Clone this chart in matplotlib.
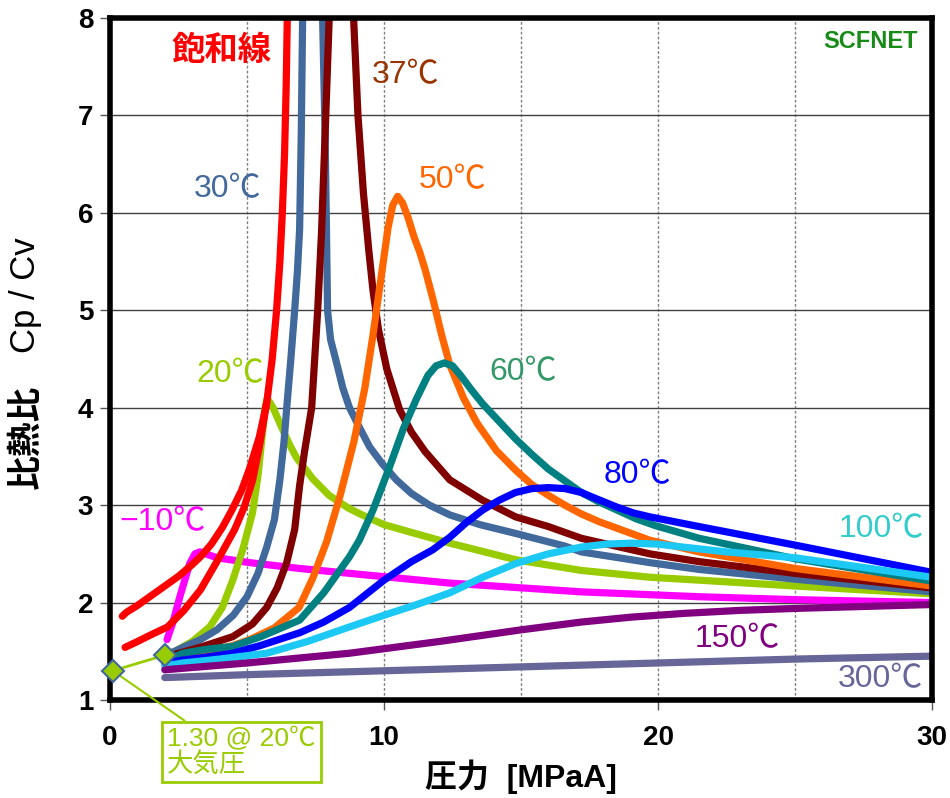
"""
Cp/Cv of CO2 vs pressure, one curve per temperature + saturation line.
Values read off the SCFNET chart by eye.
"""
import matplotlib
matplotlib.use('Agg')
import matplotlib.pyplot as plt

plt.rcParams['font.family'] = ['Liberation Sans', 'Noto Sans CJK JP', 'DejaVu Sans']

# saturation line (two branches that meet below the critical point)
sat_up_x = [0.45, 0.6, 1.0, 1.5, 2.0, 2.5, 3.0, 3.3, 3.7, 4.1, 4.45, 4.8, 5.1, 5.45, 5.72, 5.92, 6.08, 6.2, 6.29, 6.37, 6.43, 6.47]
sat_up_y = [1.86, 1.9, 1.97, 2.07, 2.17, 2.27, 2.39, 2.47, 2.6, 2.77, 2.95, 3.15, 3.38, 3.7, 4.05, 4.5, 5.0, 5.5, 6.0, 6.6, 7.3, 8.0]
sat_lo_x = [0.55, 1.0, 1.5, 2.1, 2.7, 3.3, 3.9, 4.55, 4.9, 5.2, 5.45, 5.72]
sat_lo_y = [1.54, 1.6, 1.67, 1.75, 1.92, 2.13, 2.42, 2.75, 2.98, 3.25, 3.6, 4.05]

m10_x = [2.08, 2.3, 2.55, 2.75, 2.91, 3.1, 3.28, 3.6, 3.9, 5.1, 6.92, 8.74, 12.4, 17.2, 21.5, 25, 30]
m10_y = [1.62, 1.8, 2.06, 2.25, 2.4, 2.5, 2.52, 2.49, 2.46, 2.41, 2.35, 2.3, 2.2, 2.11, 2.06, 2.03, 2.0]

t20_x = [2.0, 2.44, 3.0, 3.64, 4.1, 4.48, 4.85, 5.2, 5.4, 5.55, 5.65, 5.72, 5.8, 5.95, 6.2, 6.5, 6.8, 7.4, 8.0, 8.7, 9.2, 10.0, 11.0, 12.4, 14.8, 17.2, 19.7, 21.5, 25, 30]
t20_y = [1.46, 1.51, 1.6, 1.75, 1.95, 2.23, 2.55, 2.92, 3.3, 3.7, 3.98, 4.08, 4.07, 4.0, 3.84, 3.65, 3.49, 3.27, 3.1, 2.97, 2.9, 2.8, 2.72, 2.61, 2.44, 2.33, 2.26, 2.23, 2.17, 2.09]

t30_lx = [2.0, 2.66, 3.3, 3.9, 4.5, 5.0, 5.4, 5.72, 6.0, 6.2, 6.35, 6.45, 6.6, 6.74, 6.84, 6.92, 6.98, 7.03]
t30_ly = [1.45, 1.54, 1.62, 1.72, 1.87, 2.06, 2.3, 2.57, 2.85, 3.26, 3.65, 4.0, 4.5, 5.0, 5.4, 5.83, 6.8, 8.0]
t30_rx = [7.76, 7.85, 7.9, 7.94, 8.05, 8.27, 8.5, 8.74, 9.1, 9.47, 9.95, 10.45, 11.0, 11.66, 12.4, 13.5, 14.8, 16.6, 17.2, 19.7, 21.5, 25, 30]
t30_ry = [8.0, 6.8, 5.83, 5.0, 4.7, 4.46, 4.2, 4.0, 3.8, 3.6, 3.42, 3.26, 3.12, 3.0, 2.9, 2.8, 2.71, 2.58, 2.52, 2.41, 2.34, 2.24, 2.11]

t37_lx = [2.0, 3.28, 4.48, 5.2, 5.72, 6.1, 6.45, 6.74, 6.92, 7.1, 7.36, 7.58, 7.72, 7.85, 8.0]
t37_ly = [1.44, 1.54, 1.65, 1.78, 1.95, 2.15, 2.41, 2.75, 3.2, 3.55, 4.0, 5.0, 5.8, 6.8, 8.0]
t37_rx = [8.89, 9.05, 9.25, 9.45, 9.6, 9.8, 10.1, 10.57, 11.0, 11.5, 12.4, 13.6, 14.8, 16.0, 17.2, 19.7, 21.5, 25, 30]
t37_ry = [8.0, 7.0, 6.2, 5.6, 5.2, 4.8, 4.4, 3.98, 3.75, 3.55, 3.26, 3.05, 2.88, 2.78, 2.66, 2.5, 2.42, 2.3, 2.15]

t50_x = [2.0, 3.3, 4.5, 5.1, 6.0, 6.9, 7.4, 7.9, 8.4, 8.9, 9.3, 9.6, 9.95, 10.15, 10.32, 10.5, 10.68, 10.88, 11.1, 11.3, 11.5, 11.8, 12.1, 12.4, 12.9, 13.4, 14.1, 14.8, 15.4, 16.0, 16.6, 17.2, 17.85, 19.7, 21.5, 25, 30]
t50_y = [1.42, 1.48, 1.56, 1.62, 1.74, 1.95, 2.25, 2.62, 3.1, 3.65, 4.2, 4.75, 5.45, 5.85, 6.08, 6.17, 6.1, 5.95, 5.75, 5.6, 5.42, 5.1, 4.75, 4.44, 4.1, 3.84, 3.56, 3.36, 3.21, 3.1, 3.0, 2.91, 2.83, 2.64, 2.52, 2.35, 2.17]

t60_x = [2.0, 2.66, 3.5, 4.48, 5.5, 6.92, 7.8, 8.74, 9.1, 9.6, 10.2, 10.7, 11.2, 11.6, 11.9, 12.2, 12.5, 12.8, 13.2, 13.6, 14.2, 14.8, 15.4, 16.0, 16.6, 17.2, 17.8, 18.5, 19.2, 19.9, 21.5, 25, 30]
t60_y = [1.40, 1.48, 1.52, 1.55, 1.65, 1.82, 2.1, 2.47, 2.64, 2.95, 3.39, 3.78, 4.1, 4.33, 4.43, 4.46, 4.43, 4.33, 4.18, 4.04, 3.86, 3.68, 3.52, 3.37, 3.25, 3.13, 3.04, 2.95, 2.86, 2.79, 2.66, 2.45, 2.22]

t80_x = [2.0, 2.66, 3.5, 4.48, 5.5, 6.92, 7.8, 8.74, 10.0, 11.0, 11.77, 12.4, 13.0, 13.6, 14.2, 14.8, 15.4, 16.0, 16.6, 17.2, 17.8, 18.5, 19.1, 19.7, 21.5, 25, 30]
t80_y = [1.38, 1.41, 1.44, 1.48, 1.56, 1.69, 1.8, 1.95, 2.23, 2.42, 2.54, 2.67, 2.82, 2.95, 3.05, 3.13, 3.17, 3.18, 3.17, 3.13, 3.06, 2.98, 2.92, 2.88, 2.78, 2.59, 2.31]

t100_x = [2.0, 2.66, 4.0, 5.72, 7.2, 8.74, 10.0, 11.2, 12.4, 13.6, 14.8, 16.0, 17.2, 18.1, 19.05, 20.0, 20.9, 22.5, 25, 30]
t100_y = [1.35, 1.38, 1.42, 1.48, 1.6, 1.75, 1.87, 1.98, 2.1, 2.26, 2.4, 2.5, 2.57, 2.6, 2.61, 2.6, 2.57, 2.52, 2.46, 2.26]

t150_x = [2.0, 5.0, 8.74, 12.0, 15.0, 17.2, 19.0, 21.0, 23.0, 25, 30]
t150_y = [1.31, 1.38, 1.48, 1.6, 1.72, 1.8, 1.85, 1.89, 1.92, 1.94, 1.98]

t300_x = [2.0, 5.0, 10.0, 15.0, 20.0, 25.0, 30.0]
t300_y = [1.23, 1.26, 1.3, 1.34, 1.38, 1.42, 1.45]

# atmospheric point -> 2 MPa start point
atm_x = [0.1, 2.0]
atm_y = [1.30, 1.46]

C_SAT = '#FF0000'
C_M10 = '#FF00FF'
C_20 = '#99CC00'
C_30 = '#41699C'
C_37 = '#800000'
C_50 = '#FF6600'
C_60 = '#008080'
C_80 = '#0000FF'
C_100 = '#1CC8F4'
C_150 = '#800080'
C_300 = '#666699'

LW = 5.2

fig = plt.figure(figsize=(9.5, 7.98), dpi=100)
ax = fig.add_axes([110 / 950, 1 - 700 / 798, 822 / 950, 682 / 798])

ax.plot(m10_x, m10_y, color=C_M10, lw=LW, solid_capstyle='round', solid_joinstyle='round')
ax.plot(t20_x, t20_y, color=C_20, lw=LW, solid_capstyle='round', solid_joinstyle='round')
for xs, ys in [(t30_lx, t30_ly), (t30_rx, t30_ry)]:
    ax.plot(xs, ys, color=C_30, lw=LW, solid_capstyle='round', solid_joinstyle='round')
for xs, ys in [(t37_lx, t37_ly), (t37_rx, t37_ry)]:
    ax.plot(xs, ys, color=C_37, lw=LW, solid_capstyle='round', solid_joinstyle='round')
ax.plot(t50_x, t50_y, color=C_50, lw=LW, solid_capstyle='round', solid_joinstyle='round')
ax.plot(t60_x, t60_y, color=C_60, lw=LW, solid_capstyle='round', solid_joinstyle='round')
ax.plot(t80_x, t80_y, color=C_80, lw=LW, solid_capstyle='round', solid_joinstyle='round')
ax.plot(t100_x, t100_y, color=C_100, lw=LW, solid_capstyle='round', solid_joinstyle='round')
ax.plot(t150_x, t150_y, color=C_150, lw=LW, solid_capstyle='round', solid_joinstyle='round')
ax.plot(t300_x, t300_y, color=C_300, lw=LW, solid_capstyle='round', solid_joinstyle='round')
ax.plot(sat_up_x, sat_up_y, color=C_SAT, lw=LW, solid_capstyle='round', solid_joinstyle='round')
ax.plot(sat_lo_x, sat_lo_y, color=C_SAT, lw=LW, solid_capstyle='round', solid_joinstyle='round')

ax.plot(atm_x, atm_y, color=C_20, lw=2, marker='D', ms=11,
        mfc=C_20, mec='#41699C', mew=1.5, clip_on=False, zorder=5)

ax.set_xlim(0, 30)
ax.set_ylim(1, 8)
ax.set_xticks([0, 10, 20, 30])
ax.set_xticks([5, 15, 25], minor=True)
ax.set_yticks(range(1, 9))
ax.grid(axis='y', color='#404040', lw=1)
ax.grid(axis='x', which='both', color='#808080', lw=1, linestyle=(0, (2, 1.5)))
ax.set_axisbelow(True)
ax.tick_params(axis='both', which='major', length=7, width=1, color='#555555',
               labelsize=20, pad=5)
ax.tick_params(axis='x', which='major', pad=11)
ax.tick_params(axis='x', which='minor', length=0)
for lab in ax.get_xticklabels() + ax.get_yticklabels():
    lab.set_fontweight('bold')
for sp in ax.spines.values():
    sp.set_linewidth(4)
    sp.set_color('black')

ax.set_xlabel('圧力  [MPaA]', fontsize=23, fontweight='bold', labelpad=6)
# y label in two pieces: kanji bold, Cp / Cv plain
fig.text(26 / 950, 1 - 437 / 798, '比熱比', rotation=90, fontsize=25,
         fontweight='bold', ha='center', va='center')
fig.text(26 / 950, 1 - 295 / 798, 'Cp / Cv', rotation=90, fontsize=25,
         ha='center', va='center')

# curve labels
labels = [
    ('飽和線', 4.08, 7.66, C_SAT, 'bold', 24),
    ('37℃', 10.78, 7.41, '#993300', 'normal', 23),
    ('30℃', 4.3, 6.24, C_30, 'normal', 23),
    ('50℃', 12.5, 6.34, C_50, 'normal', 23),
    ('20℃', 4.37, 4.34, C_20, 'normal', 23),
    ('60℃', 15.08, 4.36, '#339966', 'normal', 23),
    ('80℃', 19.23, 3.31, C_80, 'normal', 23),
    ('−10℃', 1.9, 2.83, C_M10, 'normal', 23),
    ('100℃', 28.16, 2.75, '#33CCCC', 'normal', 23),
    ('150℃', 22.88, 1.62, C_150, 'normal', 23),
    ('300℃', 28.1, 1.21, C_300, 'normal', 23),
]
for txt, x, y, c, w, fs in labels:
    ax.text(x, y, txt, color=c, fontsize=fs, fontweight=w, ha='center', va='center')

ax.text(27.76, 7.76, 'SCFNET', color='#178A17', fontsize=17, fontweight='bold',
        ha='center', va='center')

ax.annotate('1.30 @ 20℃\n大気圧', xy=(atm_x[0], atm_y[0]), xycoords='data',
            xytext=(167, 798 - 752), textcoords='figure pixels',
            ha='left', va='center', fontsize=19, color=C_20, linespacing=1.05,
            bbox=dict(boxstyle='square,pad=0.2', fc='white', ec=C_20, lw=2),
            arrowprops=dict(arrowstyle='-', color=C_20, lw=1.5,
                            relpos=(0.18, 1.0), shrinkA=0, shrinkB=0))

fig.savefig('out.png', dpi=100)
